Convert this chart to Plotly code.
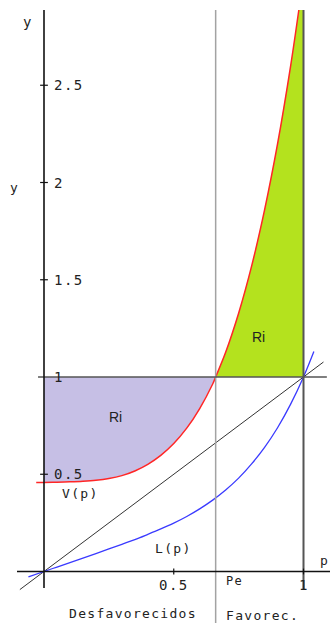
import plotly.graph_objects as go

# Lorenz curve L(p) sampled on the population share p
p_L = [-0.06, 0.00, 0.05, 0.10, 0.15, 0.20, 0.25, 0.30, 0.35, 0.40, 0.45, 0.50,
       0.55, 0.60, 0.65, 0.70, 0.75, 0.80, 0.85, 0.90, 0.95, 1.00, 1.04]
L = [-0.028, 0.000, 0.023, 0.046, 0.069, 0.092, 0.116, 0.140, 0.164, 0.191, 0.219, 0.249,
     0.283, 0.322, 0.367, 0.419, 0.480, 0.553, 0.638, 0.739, 0.859, 1.000, 1.131]

# Relative income V(p) = L'(p); crosses 1 at the equality point Pe
Pe = 0.6615
y_top = 2.887
p_V = [-0.03, 0.00, 0.05, 0.10, 0.15, 0.20, 0.25, 0.30, 0.35, 0.40, 0.45, 0.50,
       0.55, 0.60, 0.65, Pe, 0.70, 0.75, 0.80, 0.85, 0.90, 0.95, 0.982]
V = [0.458, 0.458, 0.459, 0.461, 0.464, 0.469, 0.478, 0.493, 0.517, 0.551, 0.597, 0.658,
     0.737, 0.838, 0.964, 1.000, 1.127, 1.328, 1.570, 1.859, 2.198, 2.596, y_top]

# Diagonal of perfect equality
diag = [-0.093, 1.077]

y_ticks = [0.5, 1, 1.5, 2, 2.5]
y_tick_text = ["0.5", "1", "1.5", "2", "2.5"]
x_ticks = [0.5, 1]
x_tick_text = ["0.5", "1"]

MONO = "DejaVu Sans Mono"
INK = "#222222"

fig = go.Figure()

# Shaded areas Ri: below the line y=1 for p<Pe, above it for p>Pe
lav_x = [pp for pp in p_V if 0 <= pp <= Pe] + [0]
lav_y = [vv for pp, vv in zip(p_V, V) if 0 <= pp <= Pe] + [1]
fig.add_trace(go.Scatter(x=lav_x, y=lav_y, mode="lines", fill="toself",
                         fillcolor="#c6bfe5", line=dict(width=0),
                         hoverinfo="skip", showlegend=False))

grn_x = [pp for pp in p_V if pp >= Pe] + [1, 1]
grn_y = [vv for pp, vv in zip(p_V, V) if pp >= Pe] + [y_top, 1]
fig.add_trace(go.Scatter(x=grn_x, y=grn_y, mode="lines", fill="toself",
                         fillcolor="#b4e21e", line=dict(width=0),
                         hoverinfo="skip", showlegend=False))

# Reference lines
def seg(x0, y0, x1, y1, color, width):
    fig.add_shape(type="line", x0=x0, y0=y0, x1=x1, y1=y1, xref="x", yref="y",
                  line=dict(color=color, width=width), layer="above")

seg(Pe, y_top, Pe, -0.27, "#a3a3a3", 1.5)          # p = Pe
seg(1, y_top, 1, -0.095, "#555555", 2)             # p = 1
seg(-0.023, 1, 1.09, 1, "#555555", 1.5)            # y = 1
seg(0, -0.085, 0, y_top, "#111111", 1.6)           # y axis
seg(-0.104, 0, 1.11, 0, "#111111", 1.6)            # p axis
for t in y_ticks:
    if t != 1:
        seg(-0.015, t, 0.015, t, "#111111", 1.2)
for t in x_ticks:
    seg(t, -0.015, t, 0.015, "#111111", 1.2)

# Curves
fig.add_trace(go.Scatter(x=diag, y=diag, mode="lines",
                         line=dict(color="#333333", width=1),
                         hoverinfo="skip", showlegend=False))
fig.add_trace(go.Scatter(x=p_L, y=L, mode="lines", line_shape="spline",
                         line=dict(color="#3a3aff", width=1.3),
                         hoverinfo="skip", showlegend=False))
fig.add_trace(go.Scatter(x=p_V, y=V, mode="lines", line_shape="spline",
                         line=dict(color="#ff2626", width=1.5),
                         hoverinfo="skip", showlegend=False))


def label(text, x, y, size=13, xanchor="left", family=MONO, spacing=1.3):
    if spacing:
        text = f'<span style="letter-spacing:{spacing}px">{text}</span>'
    fig.add_annotation(x=x, y=y, xref="x", yref="y", text=text, showarrow=False,
                       xanchor=xanchor, yanchor="middle",
                       font=dict(family=family, size=size, color=INK))


for t, s in zip(y_ticks, y_tick_text):
    label(s, 0.031, t, size=14, spacing=1.5)
for t, s in zip(x_ticks, x_tick_text):
    label(s, t, -0.069, size=14, xanchor="center", spacing=1.5)

label("y", -0.062, 2.825, size=14, xanchor="center")
label("y", -0.112, 1.972, size=13, xanchor="center")
label("p", 1.079, 0.054, size=13, xanchor="center")
label("Pe", 0.6936, -0.049, size=12)
label("V(p)", 0.0617, 0.4036)
label("L(p)", 0.42, 0.1208)
label("Desfavorecidos", 0.0886, -0.2134)
label("Favorec.", 0.6936, -0.2237)
label("Ri", 0.2736, 0.7943, size=14, xanchor="center", family="Liberation Sans", spacing=0)
label("Ri", 0.8247, 1.2057, size=14, xanchor="center", family="Liberation Sans", spacing=0)

fig.update_layout(
    width=330, height=623, autosize=False,
    margin=dict(l=0, r=0, t=0, b=0),
    paper_bgcolor="white", plot_bgcolor="white",
    xaxis=dict(range=[-0.16956, 1.10212], visible=False, fixedrange=True),
    yaxis=dict(range=[-0.2648, 2.9383], visible=False, fixedrange=True),
    showlegend=False,
)

fig.write_html("out.html")
